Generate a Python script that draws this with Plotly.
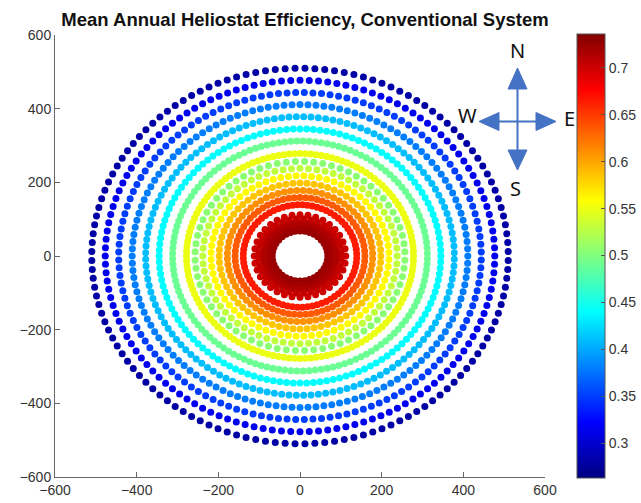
import numpy as np
import plotly.graph_objects as go

# Ring layout of the heliostat field (radius in m, heliostats per ring) and mean annual efficiency per ring
ring_radius = [68, 79, 90, 101, 112,
               139, 159, 178, 198, 218, 238, 257,
               278, 312, 345, 378, 411, 444, 477, 510]
ring_count = [36, 36, 36, 36, 36,
              72, 72, 72, 72, 72, 72, 72,
              132, 132, 132, 132, 132, 132, 132, 132]
ring_eff = [0.725, 0.72, 0.715, 0.705, 0.70,
            0.665, 0.635, 0.61, 0.585, 0.56, 0.53, 0.505,
            0.55, 0.49, 0.44, 0.41, 0.38, 0.35, 0.315, 0.28]

xticks = [-600, -400, -200, 0, 200, 400, 600]
yticks = [-600, -400, -200, 0, 200, 400, 600]
cbar_ticks = [0.3, 0.35, 0.4, 0.45, 0.5, 0.55, 0.6, 0.65, 0.7]
cmin, cmax = 0.263, 0.736

xs, ys, cs = [], [], []
for i, (r, n, e) in enumerate(zip(ring_radius, ring_count, ring_eff)):
    off = (np.pi / n) * (i % 2)
    th = np.arange(n) * 2 * np.pi / n + off
    xs.extend(r * np.cos(th))
    ys.extend(r * np.sin(th))
    cs.extend([e] * n)

jet = [[0.0, "rgb(0,0,128)"], [0.125, "rgb(0,0,255)"], [0.375, "rgb(0,255,255)"],
       [0.625, "rgb(255,255,0)"], [0.875, "rgb(255,0,0)"], [1.0, "rgb(128,0,0)"]]

W, H = 641, 503
L, R, T, B = 55, 545, 35, 477

def px(xp):
    return (xp - L) / (R - L)

def py(yp):
    return (B - yp) / (B - T)

fig = go.Figure()
fig.add_trace(go.Scatter(
    x=xs, y=ys, mode="markers",
    marker=dict(size=7, color=cs, colorscale=jet, cmin=cmin, cmax=cmax,
                line=dict(width=0),
                colorbar=dict(
                    x=px(577), xanchor="left", y=py(478), yanchor="bottom",
                    thicknessmode="pixels", thickness=28,
                    lenmode="pixels", len=444,
                    outlinewidth=1, outlinecolor="#555",
                    tickvals=cbar_ticks, ticktext=[f"{v:g}" for v in cbar_ticks],
                    ticks="inside", ticklen=4, tickcolor="#555",
                    tickfont=dict(family="Liberation Sans, Arial", size=14, color="#333"),
                    xpad=0, ypad=0)),
    showlegend=False, hoverinfo="skip"))

font_ax = dict(family="Liberation Sans, Arial", size=14, color="#333")
fig.update_xaxes(range=[-600, 600], tickvals=xticks, showgrid=False, zeroline=False,
                 showline=True, linecolor="#666", linewidth=1, ticks="inside", ticklen=5,
                 tickcolor="#666", tickfont=font_ax, mirror=False)
fig.update_yaxes(range=[-600, 600], tickvals=yticks, showgrid=False, zeroline=False,
                 showline=True, linecolor="#666", linewidth=1, ticks="inside", ticklen=5,
                 tickcolor="#666", tickfont=font_ax, mirror=False)

blue = "#4472C4"
cx, cy = 517.5, 121.5
shapes = [
    dict(type="line", xref="paper", yref="paper", x0=px(cx), x1=px(cx), y0=py(86), y1=py(156),
         line=dict(color=blue, width=2)),
    dict(type="line", xref="paper", yref="paper", x0=px(495), x1=px(540), y0=py(cy), y1=py(cy),
         line=dict(color=blue, width=2)),
]
tri = [
    [(cx, 68), (cx - 9.5, 89), (cx + 9.5, 89)],
    [(cx, 170), (cx - 9.5, 150), (cx + 9.5, 150)],
    [(479, cy), (499, cy - 9), (499, cy + 9)],
    [(556, cy), (536, cy - 9), (536, cy + 9)],
]
for t in tri:
    path = "M " + " L ".join(f"{px(a):.5f},{py(b):.5f}" for a, b in t) + " Z"
    shapes.append(dict(type="path", xref="paper", yref="paper", path=path,
                       fillcolor=blue, line=dict(color=blue, width=1)))

annots = []
for txt, xx, yy in [("N", 517.5, 50), ("S", 515, 188), ("W", 467, 115), ("E", 569, 118)]:
    annots.append(dict(text=txt, xref="paper", yref="paper", x=px(xx), y=py(yy),
                       xanchor="center", yanchor="middle", showarrow=False,
                       font=dict(family="Noto Sans, Open Sans", size=20, color="#111")))

fig.update_layout(
    width=W, height=H,
    margin=dict(l=L, r=W - R, t=T, b=H - B, autoexpand=False),
    paper_bgcolor="white", plot_bgcolor="white",
    title=dict(text="Mean Annual Heliostat Efficiency, Conventional System",
               xref="container", yref="container", x=305 / W, y=1 - 20 / H,
               xanchor="center", yanchor="middle",
               font=dict(family="Liberation Sans, Arial", size=18.5, color="#111", weight="bold")),
    shapes=shapes, annotations=annots,
)

fig.write_html("out.html")
